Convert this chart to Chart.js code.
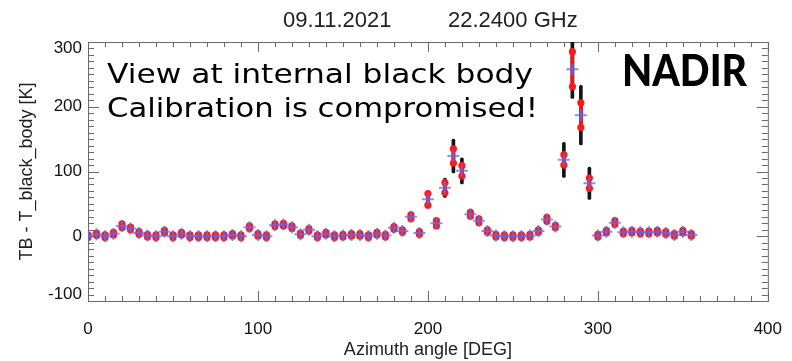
<!DOCTYPE html>
<html>
<head>
<meta charset="utf-8">
<script src="https://cdn.jsdelivr.net/npm/chart.js@4.4.0/dist/chart.umd.min.js"></script>
<style>
    html, body { margin: 0; padding: 0; background: #fff; }
    #caixa { width: 792px; height: 361px; }
</style>
</head>
<body>
<div id="caixa"><canvas id="grafico"></canvas></div>
<script>
// DADOS
const angulos = [0, 5, 10, 15, 20, 25, 30, 35, 40, 45, 50, 55, 60, 65, 70, 75, 80, 85, 90, 95,
    100, 105, 110, 115, 120, 125, 130, 135, 140, 145, 150, 155, 160, 165, 170, 175, 180, 185, 190, 195,
    200, 205, 210, 215, 220, 225, 230, 235, 240, 245, 250, 255, 260, 265, 270, 275, 280, 285, 290, 295,
    300, 305, 310, 315, 320, 325, 330, 335, 340, 345, 350, 355]

// MEDIA (CRUZ AZUL)
const tbMedia = [0, 3, 0, 4, 16, 12, 5, 1, 0, 7, 0, 4, 0, 0, 0, 0, 0, 2, 0, 14,
    2, 0, 17, 18, 14, 3, 10, 0, 4, 0, 1, 2, 2, 0, 4, 1, 13, 8, 30, 5,
    57, 20, 75, 124, 101, 34, 24, 8, 1, 0, 0, 0, 1, 8, 26, 15, 118, 258, 187, 82,
    1, 7, 21, 6, 7, 6, 6, 7, 5, 2, 7, 2]

// MEIA LARGURA DOS PONTOS VERMELHOS
const spreadVermelho = [2, 2, 2, 2, 3, 2, 2, 2, 2, 2, 2, 2, 2, 2, 2, 2, 2, 2, 2, 2,
    2, 2, 2, 2, 2, 2, 2, 2, 2, 2, 2, 2, 2, 2, 2, 2, 2, 2, 3, 2,
    9, 4, 8, 11, 8, 3, 3, 2, 2, 2, 2, 2, 2, 2, 3, 2, 8, 27, 19, 8,
    2, 2, 3, 2, 2, 2, 2, 2, 2, 2, 2, 2]

// MEIA LARGURA DAS AMOSTRAS PRETAS
const spreadPreto = [3, 3, 3, 3, 5, 3, 3, 3, 3, 3, 3, 3, 3, 3, 3, 3, 3, 3, 3, 3,
    3, 3, 5, 5, 3, 3, 3, 3, 3, 3, 3, 3, 3, 3, 3, 3, 5, 3, 5, 3,
    11, 5, 15, 26, 20, 5, 4, 3, 3, 3, 3, 3, 3, 3, 5, 3, 27, 45, 46, 25,
    3, 3, 3, 3, 3, 3, 3, 3, 3, 3, 3, 3]

const ticksY = [-100, 0, 100, 200, 300]

// MONTA OS DADOS PARA O CHART.JS
let dadosPreto = []
let dadosVermelho = []
let pontosVermelhos = []
let cruzesAzuis = []

for (let i = 0; i < angulos.length; i++) {
    dadosPreto.push({ x: angulos[i], y: [tbMedia[i] - spreadPreto[i], tbMedia[i] + spreadPreto[i]] })
    dadosVermelho.push({ x: angulos[i], y: [tbMedia[i] - spreadVermelho[i], tbMedia[i] + spreadVermelho[i]] })
    pontosVermelhos.push({ x: angulos[i], y: tbMedia[i] - spreadVermelho[i] })
    pontosVermelhos.push({ x: angulos[i], y: tbMedia[i] + spreadVermelho[i] })
    cruzesAzuis.push({ x: angulos[i], y: tbMedia[i] })
}

const fonteIDL = 'Liberation Sans, Arial, sans-serif'

function textoAjustado(ctx, texto, x, y, fonte, largura) {
    ctx.font = fonte
    let w = ctx.measureText(texto).width
    ctx.save()
    ctx.translate(x, y)
    ctx.scale(largura / w, 1)
    ctx.fillText(texto, 0, 0)
    ctx.restore()
}

// MOLDURA, TICKS E TEXTOS
const pluginMoldura = {
    id: 'moldura',
    beforeDatasetsDraw(chart) {
        const ctx = chart.ctx
        const a = chart.chartArea
        const sx = chart.scales.x
        const sy = chart.scales.y
        ctx.save()
        ctx.strokeStyle = '#6a6a6a'
        ctx.lineWidth = 1
        ctx.strokeRect(a.left + 0.5, a.top + 0.5, a.right - a.left, a.bottom - a.top)
        ctx.beginPath()
        for (let v = 0; v <= 400; v += 10) {
            let px = Math.round(sx.getPixelForValue(v)) + 0.5
            let len = v % 100 === 0 ? 10 : 5
            ctx.moveTo(px, a.bottom); ctx.lineTo(px, a.bottom - len)
            ctx.moveTo(px, a.top); ctx.lineTo(px, a.top + len)
        }
        for (let v = -100; v <= 300; v += 10) {
            let py = Math.round(sy.getPixelForValue(v)) + 0.5
            let len = v % 100 === 0 ? 11 : 6
            ctx.moveTo(a.left, py); ctx.lineTo(a.left + len, py)
            ctx.moveTo(a.right, py); ctx.lineTo(a.right - len, py)
        }
        ctx.stroke()

        // ROTULOS DO EIXO Y
        ctx.fillStyle = '#111'
        ctx.font = '17px ' + fonteIDL
        ctx.textAlign = 'right'
        ctx.textBaseline = 'middle'
        ticksY.forEach(v => {
            let py = sy.getPixelForValue(v)
            py = Math.min(Math.max(py, a.top + 6), a.bottom - 7)
            ctx.fillText(String(v), a.left - 6, py)
        })
        ctx.restore()
    },
    afterDraw(chart) {
        const ctx = chart.ctx
        ctx.save()
        ctx.fillStyle = '#222'
        ctx.textAlign = 'left'
        ctx.textBaseline = 'alphabetic'
        ctx.font = '22px ' + fonteIDL
        ctx.fillText('09.11.2021', 283, 27)
        ctx.fillText('22.2400 GHz', 448, 27)

        ctx.fillStyle = '#000'
        textoAjustado(ctx, 'View at internal black body', 107, 83, '27px DejaVu Sans', 426)
        textoAjustado(ctx, 'Calibration is compromised!', 107, 117, '27px DejaVu Sans', 431)
        textoAjustado(ctx, 'NADIR', 622, 86, '900 43px Lato', 125)
        ctx.restore()
    }
}

let grafico = new Chart(document.getElementById('grafico'), {
    type: 'scatter',
    data: {
        datasets: [
            {
                type: 'bar',
                data: dadosPreto,
                backgroundColor: '#151515',
                barThickness: 3,
                borderRadius: 1.5,
                borderSkipped: false,
                grouped: false,
                order: 4
            },
            {
                type: 'bar',
                data: dadosVermelho,
                backgroundColor: '#ff1010',
                barThickness: 3,
                grouped: false,
                order: 3
            },
            {
                type: 'scatter',
                data: pontosVermelhos,
                pointRadius: 3.6,
                pointBackgroundColor: '#ff1a1a',
                pointBorderWidth: 0,
                order: 2
            },
            {
                type: 'scatter',
                data: cruzesAzuis,
                pointStyle: 'cross',
                pointRadius: 6,
                pointBorderColor: 'rgba(80, 115, 255, 0.75)',
                pointBorderWidth: 2,
                order: 1
            }
        ]
    },
    options: {
        responsive: true,
        maintainAspectRatio: false,
        animation: false,
        devicePixelRatio: 1,
        layout: { padding: { top: 42, right: 15, left: 0, bottom: 0 } },
        plugins: {
            legend: { display: false },
            tooltip: { enabled: false }
        },
        scales: {
            x: {
                type: 'linear',
                min: 0,
                max: 400,
                offset: false,
                grid: { display: false },
                border: { display: false },
                ticks: {
                    stepSize: 100,
                    color: '#111',
                    font: { family: fonteIDL, size: 17 },
                    padding: 10,
                    maxRotation: 0
                },
                title: {
                    display: true,
                    text: 'Azimuth angle [DEG]',
                    color: '#222',
                    font: { family: fonteIDL, size: 18 },
                    padding: { top: 6, bottom: 0 }
                },
                afterFit(s) { s.height = 60 }
            },
            y: {
                min: -100,
                max: 300,
                grid: { display: false },
                border: { display: false },
                ticks: { display: false, stepSize: 100 },
                title: {
                    display: true,
                    text: 'TB - T_black_body [K]',
                    color: '#222',
                    font: { family: fonteIDL, size: 18 },
                    padding: { top: 16, bottom: 0 }
                },
                afterFit(s) { s.width = 88 }
            }
        }
    },
    plugins: [pluginMoldura]
})
</script>
</body>
</html>
